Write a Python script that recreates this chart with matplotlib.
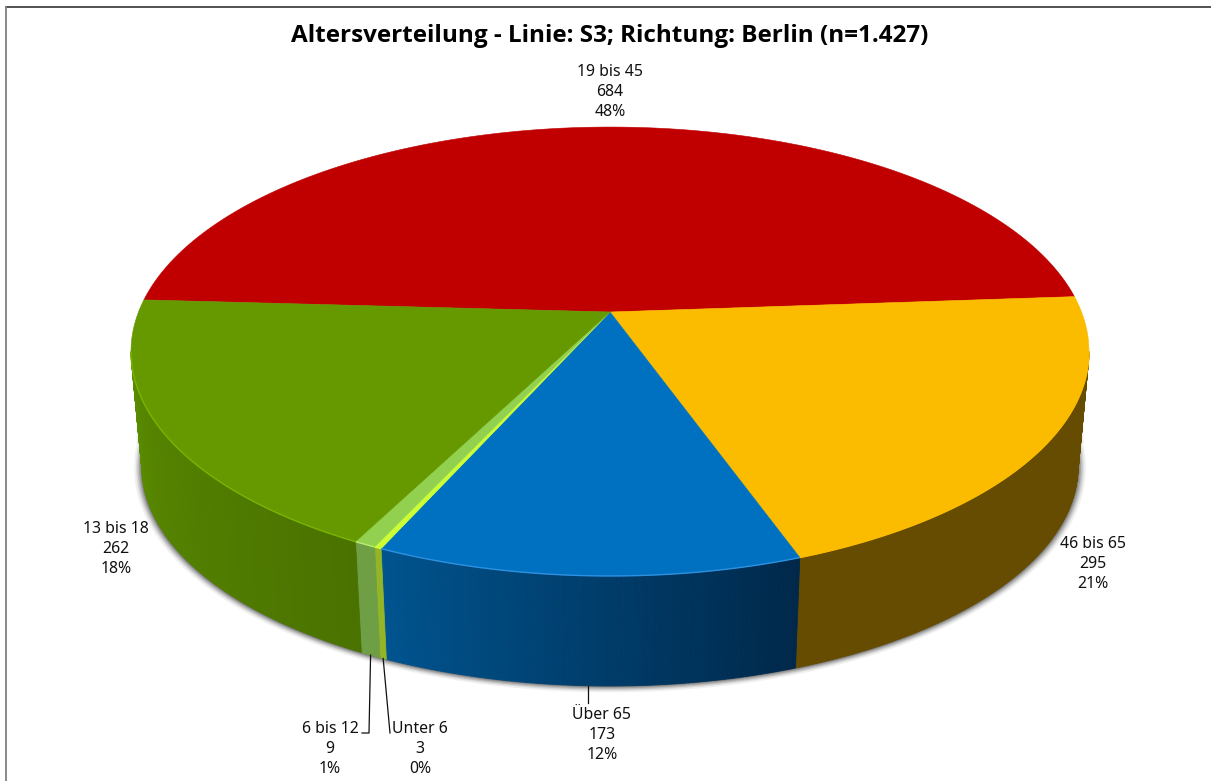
import numpy as np
import matplotlib
matplotlib.use("Agg")
import matplotlib.pyplot as plt
from matplotlib.colors import to_rgb

# values, clockwise starting from the red slice
groups = ["19 bis 45", "46 bis 65", "Über 65", "Unter 6", "6 bis 12", "13 bis 18"]
counts = [684, 295, 173, 3, 9, 262]
percent = [48, 21, 12, 0, 1, 18]
title = "Altersverteilung - Linie: S3; Richtung: Berlin (n=1.427)"

# styles
top_colors = ["#c00000", "#fbbc00", "#0070c0", "#ccff33", "#92d050", "#669900"]
side_left = ["#600000", "#664c00", "#00548f", "#93b526", "#6f9f45", "#5a8c00"]
side_right = ["#600000", "#664c00", "#00284a", "#93b526", "#6f9f45", "#4a7200"]
rim_colors = ["#c00000", "#fbbc00", "#2e90e0", "#ccff33", "#b5ee70", "#79b400"]
label_pos = [(610, 92), (1093, 564), (602, 735), (420, 749), (330, 749), (116, 549)]

# perspective of the disc, in pixels
CX, CY = 610, 312
A, B, K = 471.5, 217.5, 0.176
START = np.radians(-4.1)
DEPTH = 110
SHRINK = 0.977
FONT = "Noto Sans"
TITLE_FONT = "Open Sans"
TANGENT = np.arcsin(K)


def top_xy(theta):
    # unit circle to screen, theta runs clockwise on screen
    u, v = np.cos(theta), np.sin(theta)
    w = 1 - K * v
    return CX + A * u / w, CY + B * v / w


def bottom_xy(theta):
    x, y = top_xy(theta)
    return CX + SHRINK * (x - CX), 576 + DEPTH - SHRINK * (576 - y)


fig = plt.figure(figsize=(12.11, 7.81), dpi=100)
ax = fig.add_axes([0, 0, 1, 1])
ax.set_xlim(0, 1211)
ax.set_ylim(781, 0)
ax.axis("off")

# slice limits from the counts; red sits before START
fractions = np.array(counts) / sum(counts)
spans = fractions * 2 * np.pi
ends = START - spans[0] + np.cumsum(spans)
starts = ends - spans

# soft shadow below the side wall
th = np.linspace(TANGENT - 0.1, np.pi - TANGENT + 0.1, 200)
bx, by = bottom_xy(th)
for grow, alpha in zip([8, 6, 4.5, 3, 1.5], [0.06, 0.09, 0.12, 0.16, 0.22]):
    sx = CX + (bx - CX) * (1 + grow / 470)
    sy = by + grow * 0.8 * np.clip(np.sin(th), 0, 1)
    ax.fill(np.r_[sx, sx[::-1]], np.r_[sy, sy[::-1] - 110], color="black", alpha=alpha, lw=0, zorder=1)

# side wall as small strips, colour follows x inside each slice
for i in range(len(groups)):
    a0, a1 = max(starts[i], TANGENT), min(ends[i], np.pi - TANGENT)
    if a1 <= a0:
        continue
    n = max(2, int((a1 - a0) * 120))
    edges = np.linspace(a0, a1, n + 1)
    tx, ty = top_xy(edges)
    qx, qy = bottom_xy(edges)
    c_left, c_right = np.array(to_rgb(side_left[i])), np.array(to_rgb(side_right[i]))
    for j in range(n):
        # angle grows towards the left of the picture
        t = (j + 0.5) / n
        col = c_right * (1 - t) + c_left * t
        ax.fill([tx[j], tx[j + 1], qx[j + 1], qx[j]], [ty[j], ty[j + 1], qy[j + 1], qy[j]],
                color=col, lw=0.6, ec=col, zorder=2)

# top of the pie
for i in range(len(groups)):
    edges = np.linspace(starts[i], ends[i], 200)
    x, y = top_xy(edges)
    ax.fill(np.r_[CX, x], np.r_[CY, y], color=top_colors[i], lw=0.4, ec=top_colors[i], zorder=3)
    # lighter rim where the top meets the wall
    a0, a1 = max(starts[i], TANGENT), min(ends[i], np.pi - TANGENT)
    if a1 > a0:
        rx, ry = top_xy(np.linspace(a0, a1, 120))
        ax.plot(rx, ry, color=rim_colors[i], lw=1.0, zorder=4, solid_capstyle="butt")

# leader lines
x3, y3 = bottom_xy((starts[3] + ends[3]) / 2)
x4, y4 = bottom_xy((starts[4] + ends[4]) / 2)
x2, y2 = bottom_xy((starts[2] + ends[2]) / 2)
ax.plot([x3, 390], [y3, 733], color="#111111", lw=0.9, zorder=5)
ax.plot([x4, 369, 362], [y4, 733, 733], color="#111111", lw=0.9, zorder=5)
ax.plot([x2, x2], [y2, 703], color="#111111", lw=0.9, zorder=5)

# labels
for i in range(len(groups)):
    ax.text(label_pos[i][0], label_pos[i][1], f"{groups[i]}\n{counts[i]}\n{percent[i]}%",
            ha="center", va="center", fontsize=11.4, family=FONT, color="#111111",
            linespacing=1.35, zorder=6)

ax.text(610, 36, title, ha="center", va="center", fontsize=17.5, fontweight="bold", family=TITLE_FONT, color="black")

# chart frame, only top and left show
ax.plot([5.5, 1211], [6.5, 6.5], color="#222222", lw=1.1, zorder=7)
ax.plot([5.5, 5.5], [6.5, 781], color="#808080", lw=1.3, zorder=7)

fig.savefig("out.png", dpi=100)
